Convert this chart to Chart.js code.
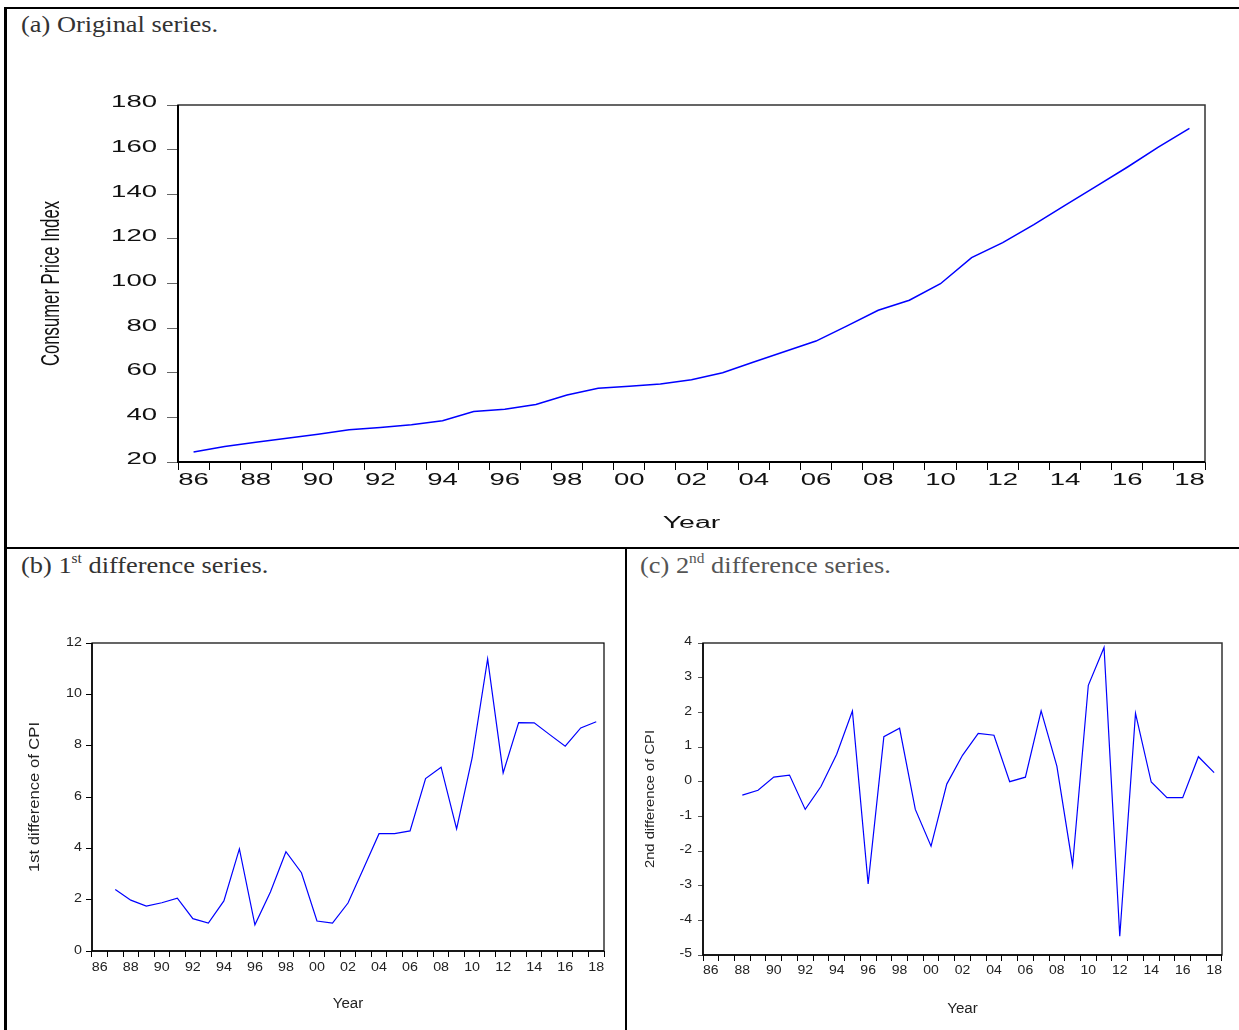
<!DOCTYPE html>
<html>
<head>
<meta charset="utf-8">
<script src="https://cdn.jsdelivr.net/npm/chart.js@4.4.1/dist/chart.umd.min.js"></script>
<style>
    body { margin: 0; background: #fff; }
    #page { position: relative; width: 1239px; height: 1030px; overflow: hidden; background: #fff; }
    .rule { position: absolute; background: #000; }
    .cap { position: absolute; font-family: "Liberation Serif", "Times New Roman", serif; font-size: 24px; line-height: 24px; color: #333; white-space: nowrap; transform: scaleX(1.1); transform-origin: left top; }
    .cap sup { font-size: 14px; vertical-align: 10px; line-height: 0; }
    canvas { position: absolute; left: 0; top: 0; pointer-events: none; }
</style>
</head>
<body>
<div id="page">
    <div class="rule" style="left:4px; top:7px; width:1235px; height:2px;"></div>
    <div class="rule" style="left:4px; top:7px; width:3px; height:1023px;"></div>
    <div class="rule" style="left:4px; top:547px; width:1235px; height:2px;"></div>
    <div class="rule" style="left:625px; top:547px; width:2px; height:483px;"></div>

    <div class="cap" style="left:21px; top:12px;">(a) Original series.</div>
    <div class="cap" style="left:21px; top:553px;">(b) 1<sup>st</sup> difference series.</div>
    <div class="cap" style="left:640px; top:553px; color:#555;">(c) 2<sup>nd</sup> difference series.</div>

    <canvas id="cpiChart" width="1239" height="1030"></canvas>
    <canvas id="diff1Chart" width="1239" height="1030"></canvas>
    <canvas id="diff2Chart" width="1239" height="1030"></canvas>
</div>

<script>
// Consumer price index, yearly 1986-2018

const years = ['86', '87', '88', '89', '90', '91', '92', '93', '94', '95', '96',
    '97', '98', '99', '00', '01', '02', '03', '04', '05', '06', '07', '08', '09',
    '10', '11', '12', '13', '14', '15', '16', '17', '18'];

const cpi = [24.5, 26.9, 28.8, 30.6, 32.4, 34.5, 35.5, 36.7, 38.5, 42.6, 43.6,
    45.8, 50.0, 53.0, 53.9, 55.0, 56.9, 60.0, 64.8, 69.5, 74.2, 81.0, 88.0, 92.5,
    99.9, 111.6, 118.3, 126.4, 135.0, 143.5, 152.1, 161.1, 169.5];

// first difference starts in 87
const cpiDiff1 = [null, 2.40, 1.98, 1.75, 1.88, 2.06, 1.26, 1.09, 1.95, 3.98, 1.02,
    2.30, 3.87, 3.05, 1.17, 1.09, 1.87, 3.21, 4.57, 4.57, 4.68, 6.72, 7.16, 4.76,
    7.52, 11.38, 6.94, 8.90, 8.89, 8.43, 7.98, 8.69, 8.93];

// second difference starts in 88
const cpiDiff2 = [null, null, -0.39, -0.25, 0.13, 0.19, -0.80, -0.14, 0.79, 2.04, -2.95,
    1.30, 1.54, -0.80, -1.86, -0.07, 0.76, 1.39, 1.34, 0.00, 0.13, 2.04, 0.45, -2.41,
    2.78, 3.87, -4.46, 1.97, -0.01, -0.46, -0.46, 0.72, 0.26];

const cpiRange = [20, 180, 20];
const diff1Range = [0, 12, 2];
const diff2Range = [-5, 4, 1];

const PAGE_W = 1239;
const PAGE_H = 1030;

// draw text squeezed or widened horizontally (the original uses stretched fonts)
function drawScaledText(ctx, text, x, y, sx, align, rotate) {
    ctx.save();
    ctx.translate(x, y);
    if (rotate) ctx.rotate(-Math.PI / 2);
    ctx.scale(sx, 1);
    ctx.textAlign = align;
    ctx.textBaseline = 'middle';
    ctx.fillText(text, 0, 0);
    ctx.restore();
}

const axisText = {
    id: 'axisText',
    afterDraw(chart, args, o) {
        const ctx = chart.ctx;
        const a = chart.chartArea;
        const xScale = chart.scales.x;
        const yScale = chart.scales.y;

        ctx.save();

        // plot frame
        ctx.strokeStyle = o.frameColor;
        ctx.lineWidth = o.frameWidth;
        ctx.strokeRect(a.left, a.top, a.right - a.left, a.bottom - a.top);
        ctx.strokeStyle = '#000';
        ctx.lineWidth = o.axisWidth;
        ctx.beginPath();
        ctx.moveTo(a.left, a.top);
        ctx.lineTo(a.left, a.bottom);
        ctx.lineTo(a.right, a.bottom);
        ctx.stroke();

        ctx.fillStyle = o.color;
        ctx.font = o.tickFont;

        yScale.ticks.forEach(t => {
            drawScaledText(ctx, String(t.value), a.left - o.yGap, yScale.getPixelForValue(t.value) + o.yShift, o.stretch, 'right');
        });

        xScale.ticks.forEach((t, i) => {
            if (i % 2) return;
            drawScaledText(ctx, xScale.getLabelForValue(t.value), xScale.getPixelForValue(t.value), a.bottom + o.xGap, o.stretch, 'center');
        });

        // axis titles
        ctx.font = o.xTitleFont;
        drawScaledText(ctx, o.xTitle, (a.left + a.right) / 2, a.bottom + o.xTitleGap, o.xTitleStretch, 'center');

        ctx.font = o.yTitleFont;
        const w = ctx.measureText(o.yTitle).width;
        drawScaledText(ctx, o.yTitle, a.left - o.yTitleGap, (a.top + a.bottom) / 2, o.yTitleLength / w, 'center', true);

        ctx.restore();
    }
};

function createSeriesChart(canvasId, values, range, area, style) {
    const ctx = document.getElementById(canvasId).getContext('2d');

    return new Chart(ctx, {
        type: 'line',
        data: {
            labels: years,
            datasets: [{
                data: values,
                borderColor: '#0000ff',
                borderWidth: style.lineWidth,
                pointRadius: 0,
                tension: 0,
                fill: false
            }]
        },
        options: {
            responsive: false,
            animation: false,
            layout: {
                padding: {
                    left: area.left - style.yTick,
                    top: area.top,
                    right: PAGE_W - area.right,
                    bottom: PAGE_H - area.bottom - style.xTick
                }
            },
            scales: {
                x: {
                    type: 'category',
                    offset: true,
                    grid: {
                        offset: true,
                        drawOnChartArea: false,
                        drawTicks: true,
                        tickLength: style.xTick,
                        color: '#000',
                        lineWidth: 1
                    },
                    border: { display: false },
                    ticks: { display: false, autoSkip: false }
                },
                y: {
                    min: range[0],
                    max: range[1],
                    grid: {
                        drawOnChartArea: false,
                        drawTicks: true,
                        tickLength: style.yTick,
                        color: style.yTickColor,
                        lineWidth: 1
                    },
                    border: { display: false },
                    ticks: { display: false, stepSize: range[2] }
                }
            },
            plugins: {
                legend: { display: false },
                tooltip: { enabled: false },
                axisText: style.text
            }
        },
        plugins: [axisText]
    });
}

// (a) original series
createSeriesChart('cpiChart', cpi, cpiRange,
    { left: 178, top: 105, right: 1205, bottom: 462 },
    {
        lineWidth: 1.5, xTick: 8, yTick: 11, yTickColor: '#666',
        text: {
            color: '#111', frameColor: '#333', frameWidth: 1.5, axisWidth: 2,
            tickFont: '16px "Liberation Sans", Arial, sans-serif', stretch: 1.72,
            yGap: 21, yShift: -2, xGap: 19,
            xTitle: 'Year', xTitleFont: '16px "Liberation Sans", Arial, sans-serif', xTitleStretch: 1.78, xTitleGap: 62,
            yTitle: 'Consumer Price Index', yTitleFont: '26px "Liberation Sans", Arial, sans-serif', yTitleLength: 165, yTitleGap: 126
        }
    });

// (b) 1st difference
createSeriesChart('diff1Chart', cpiDiff1, diff1Range,
    { left: 92, top: 643, right: 604, bottom: 951 },
    {
        lineWidth: 1.2, xTick: 6, yTick: 6, yTickColor: '#000',
        text: {
            color: '#222', frameColor: '#000', frameWidth: 1.2, axisWidth: 1.5,
            tickFont: '13px "Liberation Sans", Arial, sans-serif', stretch: 1.1,
            yGap: 10, yShift: -1, xGap: 16,
            xTitle: 'Year', xTitleFont: '14px "Liberation Sans", Arial, sans-serif', xTitleStretch: 1.08, xTitleGap: 53,
            yTitle: '1st difference of CPI', yTitleFont: '14px "Liberation Sans", Arial, sans-serif', yTitleLength: 150, yTitleGap: 57
        }
    });

// (c) 2nd difference
createSeriesChart('diff2Chart', cpiDiff2, diff2Range,
    { left: 703, top: 643, right: 1222, bottom: 955 },
    {
        lineWidth: 1.2, xTick: 6, yTick: 5, yTickColor: '#555',
        text: {
            color: '#222', frameColor: '#333', frameWidth: 1.5, axisWidth: 1.5,
            tickFont: '12.5px "Liberation Sans", Arial, sans-serif', stretch: 1.12,
            yGap: 11, yShift: -1, xGap: 16,
            xTitle: 'Year', xTitleFont: '14px "Liberation Sans", Arial, sans-serif', xTitleStretch: 1.08, xTitleGap: 54,
            yTitle: '2nd difference of CPI', yTitleFont: '13px "Liberation Sans", Arial, sans-serif', yTitleLength: 138, yTitleGap: 53
        }
    });
</script>
</body>
</html>
